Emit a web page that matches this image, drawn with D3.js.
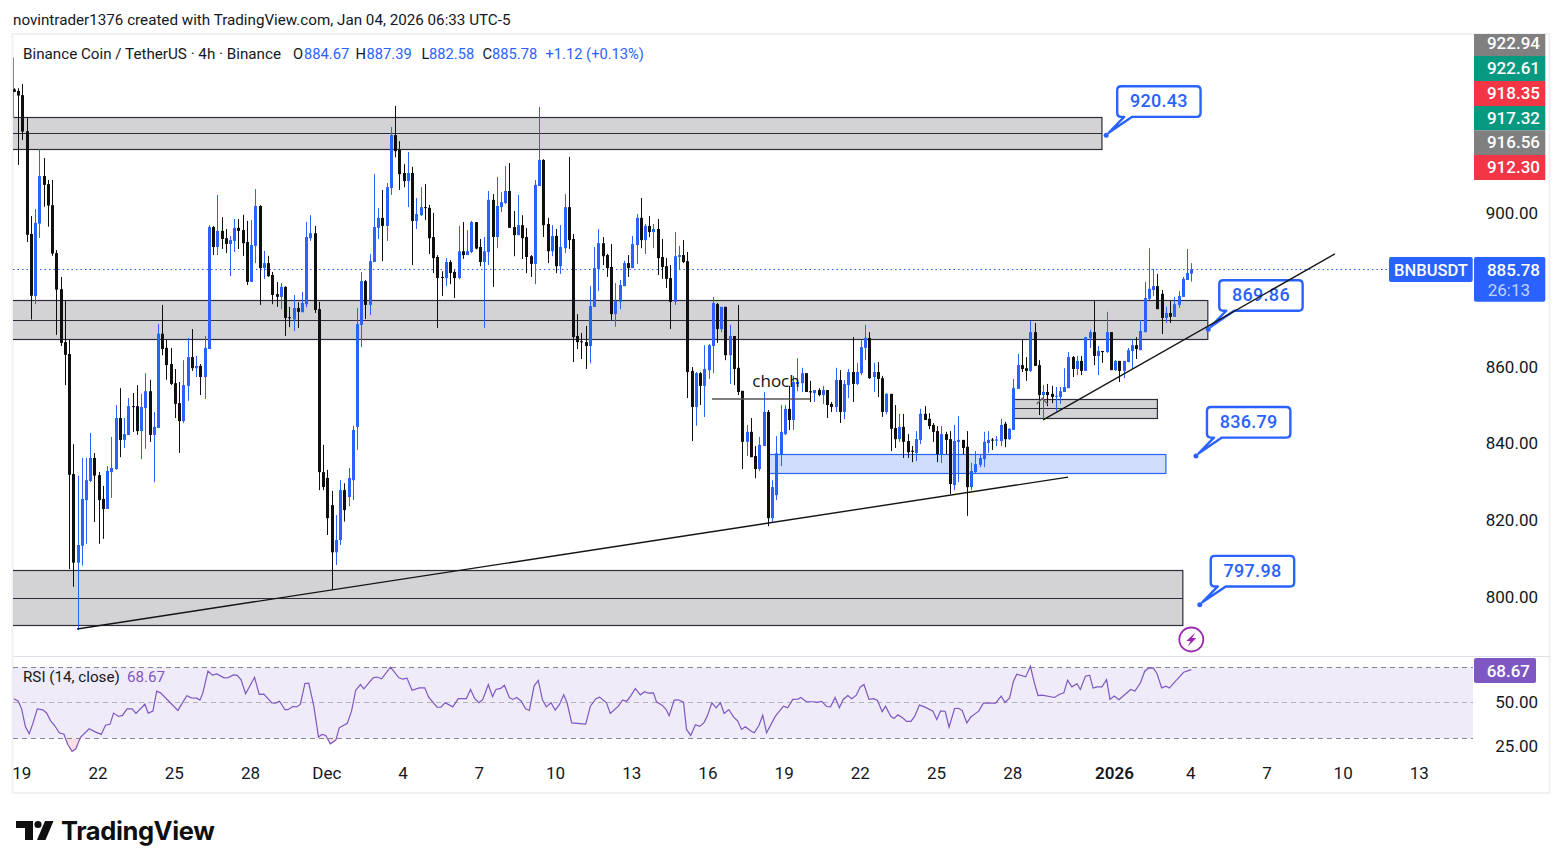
<!DOCTYPE html>
<html>
<head>
<meta charset="utf-8">
<style>
  html, body { margin: 0; padding: 0; background: #fff; }
  svg { display: block; }
  text { font-family: Roboto, sans-serif; }
</style>
<script src="https://cdn.jsdelivr.net/npm/d3@7"></script>
</head>
<body>
<svg id="chart" width="1563" height="868"></svg>
<script>
// BNB/USDT 4h candles, each row is [open, high, low, close]
const bars = [
[932.7,933,932,932.1],[932.3,933,913,931.1],[931.2,934.1,919.5,921.7],[921.8,925.4,892.9,894.8],[895,899.7,872.7,878.9],
[878.8,901.5,876.7,897.9],[897.7,917.1,894,910.1],[910.1,914.8,902.1,907.8],[908,909.1,896.9,902.4],[902.5,909.1,889.3,889.9],
[890,890.8,868.7,880.5],[880.6,883.8,865.8,866.6],[866.8,877.6,855.6,863.5],[863.7,867.4,807.6,832.2],[832.4,840.2,803,809.3],
[809.3,832,791.7,813.9],[813.7,836.6,808.5,825.9],[825.6,836.6,814.2,830.8],[830.6,843.1,830.3,836.6],[836.6,837.9,819.9,832],
[832.1,832.9,814.2,825.6],[825.9,829.3,815.5,823.3],[823.3,834.5,823.3,833.2],[832.9,842.1,826.2,834],[833.7,850.4,833.5,847],
[847,854.8,836.8,841.3],[841.3,847,839.2,842.8],[842.6,852.2,842.6,850.1],[850.1,853.5,843.4,850],[850.1,855.6,842.6,843.6],
[843.6,853.3,836.3,849.9],[849.6,858.7,839,854],[854,857,840.8,842.6],[842.6,848.6,830.3,844.7],[844.4,871.5,844.4,869],
[869,876.5,863.4,865],[865.3,867.4,857,860.8],[861.1,865.3,855.6,855.9],[856.1,859.8,847,850.7],[850.9,856.4,837.9,846.2],
[846.2,862.1,845.7,855.6],[855.4,867.9,851.5,862.9],[862.9,870.2,859.3,860],[860,863.2,857.7,860.6],[860.6,861.1,853,857.7],
[857.7,868.4,852,865.3],[865,897.3,865,896.8],[896.8,897.1,889.5,891.6],[891.6,905.2,889.5,895.8],[895.8,899.4,891.1,893.7],
[893.9,896.3,890,892.4],[892.4,894.5,884,893.4],[893.2,898.9,890.3,896.6],[896.6,898.9,891.1,895.8],[896,900,889.3,892.6],
[892.9,898.4,881.7,882.5],[882.5,898.6,882.5,892.1],[891.9,906.7,887.4,902.3],[902.3,902.5,876.5,886.1],[886.1,890.6,883.3,887.4],
[887.4,889.3,883.8,884],[884.3,885.1,876.7,879.1],[879.3,882.5,876,878.6],[878.6,882.2,875.4,881.2],[881.2,881.4,868.4,873.1],
[873.3,876,870.7,873.1],[872.7,879.1,869.7,875.7],[875.7,877.2,870.5,874.7],[874.6,879.9,874.6,877],[876.7,898.1,875.9,894.2],
[893.9,899.9,893.2,895.2],[895.2,897.1,874.4,875.2],[875.4,877.3,828.2,832.9],[832.9,840,828.2,829],[831.4,833.5,816.5,820.9],
[824.3,828,802.2,812],[812,821.7,808.7,815.2],[815.2,830.8,813.9,828.2],[828.2,830,820,823],[826.4,834,824,831.4],
[830.8,845,825.6,843.9],[844.7,875.7,838.7,871.5],[871.3,885.1,865.5,882.7],[882.7,883,872.8,876.5],[876.5,889.8,873.9,887.9],
[887.7,910.6,887.7,896.8],[896.6,901.8,893.7,899.2],[899.2,906.5,887.9,897.1],[897.1,908.3,893.2,907.2],[907,922.9,905.2,920.8],
[920.8,928.4,915,916.6],[916.9,919.2,906.5,910.6],[910.9,913.2,907.2,908.8],[908.8,916.4,902,910.9],[910.9,912.5,886.9,898.4],
[898.4,904.4,896.3,900.2],[899.9,907.2,899.7,902],[902,908,898.6,901.8],[901.8,902.6,889.8,893.9],[894.2,900.5,884.8,888.7],
[889,889.5,870.5,883.5],[883.8,885.3,878.8,883.6],[883.5,888.7,881.4,887.7],[887.7,888.2,881.9,884.8],[885.1,885.6,878.3,883.5],
[883.5,897.1,883.2,890.5],[890.5,898.1,888.5,889.5],[889.5,896,889.5,890.5],[890.3,898.4,890,898.1],[898.1,898.1,891,891.2],
[891.6,893.7,886.6,887.7],[887.7,894.2,870.5,890.5],[890.3,906.2,886.9,903.9],[903.9,905.4,881.2,894.2],[894.2,909.9,891.3,902.3],
[902,905.9,900.7,903.3],[903.1,912.7,902.8,906.2],[906.2,913.5,896.6,896.6],[896.8,901,889.2,894.7],[894.7,905.2,894.7,897.3],
[897.3,899.9,888.5,893.9],[894.2,896.6,884.8,889],[889.2,889.5,883.8,887.2],[887.2,909.1,881.9,907.8],[907.5,928.1,907.5,914.3],
[914.3,914.5,894.2,897.3],[897.6,899.2,887.4,890.5],[890.5,897.3,889.2,894.5],[894.5,896.3,884.8,886.6],[886.6,897.3,884.6,891.6],
[891.3,905.4,890,902],[902,915.1,891.1,893.4],[893.7,895,861.6,868.1],[868.4,874.1,865,866.8],[867,869.2,862.4,866.8],
[866.8,871,859.8,865.8],[865.8,881.4,861.3,876.2],[876,891.6,876,886.1],[885.9,896.3,880.1,892.6],[892.6,894.2,886.9,889.2],
[889.5,889.8,883.8,886.1],[886.4,892.4,872.6,874.1],[874.1,882.2,870.8,877.5],[877.3,883,875.4,881.7],[881.4,888,881.4,887.4],
[887.4,889.5,883.8,886.1],[886.1,894.5,886.1,892.4],[892.1,900.2,887.2,899.2],[899.2,904.4,891.3,893.4],[893.4,897.6,889.8,897.1],
[897.1,899.7,894.2,895.5],[895.5,897.6,891.3,896.3],[896.3,898.9,884.3,888.7],[889,893.7,883.3,886.4],[886.6,888.7,880.9,883.3],
[883.5,886.9,870.2,877.3],[877.3,895.5,876.5,889.2],[889,891.9,885.6,889.5],[889.5,893.4,887.4,887.7],[887.9,890.3,852.2,859],
[859.3,860.3,841,849.9],[849.9,859,845,858.7],[858.7,859,850.4,855.4],[855.4,866,847.3,859.8],[859.5,866.3,857.2,866],
[865.8,878.6,858.7,877],[876.7,877,866.6,870.2],[870.2,876,869.4,876],[876,876,862.1,863.4],[863.4,871.3,855.9,868.4],
[868.4,868.4,855.6,859.8],[860.1,876.5,853,853.8],[854.1,854.1,833.7,840.8],[840.8,845.2,837.1,843.4],[843.4,847,836.8,836.8],
[837.1,839.7,831.3,833.7],[833.7,842.1,833.2,840],[839.7,853.8,839.7,848.6],[848.6,849.1,818.8,820.9],[820.9,830.8,819.9,829],
[826.9,842.3,825.6,837.8],[837.5,850.4,834.5,843.4],[842.8,850.4,842.6,849.4],[849.4,855.4,843.9,846.5],[846.5,858,843.9,856.4],
[855.9,862.6,854,856.4],[856.1,860.1,853.8,858.7],[858.7,858.7,853.8,853.8],[854,856.7,851.2,853.7],[853.5,854.3,851.2,854.3],
[854.3,854.8,852.7,853],[853,855.4,850.7,854.3],[854.3,854.3,847,850.4],[850.7,851.2,848.6,849.9],[849.9,860.1,848.6,856.9],
[856.9,859.5,845.7,848.6],[848.6,856.9,846.7,855.9],[855.6,859.8,852.2,859],[859,868.1,851.2,855.9],[855.9,861.4,855.6,859],
[858.7,867.3,858.2,865.5],[865.3,871.3,862.1,867.9],[867.9,869.4,857.2,857.4],[857.7,861.4,853.8,859],[859,861.6,852.5,857.2],
[857.4,858,847.3,848.6],[848.6,853.5,848,853.3],[853.3,853.3,838.4,844.2],[844.4,850.4,839.2,841.5],[841.5,848.1,840.8,844.7],
[844.7,848.1,836.6,840.8],[841,842.8,836.6,838.1],[838.5,839.7,835.5,838.2],[837.9,843.6,835.8,841.5],[841.3,849.4,840.2,848.1],
[848.1,850.1,846.5,846.5],[846.8,848.3,844.1,844.9],[845.2,845.7,840.8,843.4],[843.6,844.9,835.5,837.6],[837.6,844.9,835.3,842.8],
[842.8,843.4,837.6,841.3],[841.5,843.6,827.2,829.8],[829.5,845.2,828.2,841],[840.8,847.5,830.3,841.3],[841.3,841.3,837.6,839.2],
[839.5,843.6,821.5,829],[829,835.3,828.2,833.2],[832.9,838.4,832.7,835],[834.8,837.4,834.2,836.6],[836.3,843.4,834.2,840.8],
[840.5,843.6,837.9,841.3],[841.4,841.8,838.7,841.1],[841.1,842.3,839.7,841.4],[841,846.8,839.7,845.2],[845.5,846,839.4,841.5],
[841.5,844.4,841.3,844.2],[843.9,857.2,843.9,854.8],[854.6,863.7,854.6,860.8],[860.8,867.4,859,859.8],[860,862.9,856.7,859.3],
[859.3,872.3,859,869.4],[869.4,871.8,860.6,860.6],[860.8,862.1,847.8,853],[853,855.6,846.5,853.8],[853.8,855.9,850.1,853],
[853.3,855.4,850.9,852.5],[852.6,855.1,848.8,852.8],[852.5,855.1,850.7,854],[853.8,860,853.8,855.1],[854.8,864.2,854.8,862.9],
[862.9,863.2,857.7,859.8],[859.8,863.2,858.2,861.9],[861.9,863.2,858.2,859.3],[859.3,868.1,859.3,868.1],[867.9,870,865.3,869.4],
[869.4,877.5,860.8,863.2],[863.2,865.8,858.2,864.5],[864.5,864.5,861.4,864.2],[864.2,874.7,864,869.4],[869.4,869.4,859.5,859.5],
[859.5,862.1,859.3,861.9],[861.9,861.9,856.4,859.3],[859.3,861.9,857.4,861.9],[861.6,865.3,861.6,864.7],[864.5,867.6,859.8,866],
[866,868.1,862.4,865],[864.7,872.6,864.7,869.7],[869.4,882.5,869.4,878.3],[878.1,891.3,877.8,880.7],[880.4,885.9,878.8,881.4],
[881.4,884.6,875.4,875.4],[879.4,880.4,868.9,873.1],[873.1,876,871.8,874.4],[874.4,877.5,871.8,873.4],[873.4,878.6,873.4,876.7],
[876.5,880.1,875.7,878.8],[878.6,883.8,878.6,883.3],[883,891.1,883,884.8],[884.67,887.39,882.58,885.78]
];

// RSI(14) vertices as [bar index, value]
const rsiPoints = [
[0,52.3],[1,50.9],[1.8,46.6],[2.7,36.5],[3.6,32.6],[4.5,38.7],[5.5,46.6],[6.8,46],[7.7,44.3],[8.7,39.6],[9.6,37.2],[10.7,33.1],[11.8,32.3],[12.7,26.5],[13.7,22.6],[14.6,24.1],[15.7,30.6],[17.75,35.4],[19.3,33.5],[20.6,32.2],[21.6,37.4],[22.7,38],[23.5,44.2],[24.7,42.3],[25.6,42.9],[26.7,46.6],[27.9,46.6],[28.8,44],[30.9,49.2],[31.7,44.2],[32.8,45.3],[33.7,56.6],[34.6,55.6],[38.7,45.7],[40.8,54],[41.9,52.8],[43.2,52.6],[43.9,51.5],[44.6,55.6],[45.8,67.8],[46.9,65.6],[47.9,66.3],[49.6,64.1],[50.6,64.2],[51.8,65.7],[52.7,65.5],[53.6,63.1],[54.7,55.1],[56.8,64.4],[57.9,54.7],[59,54.9],[60.9,50],[61.8,49.8],[62.7,50.9],[64,46.1],[64.7,46.1],[65.8,47.9],[66.7,47.7],[67.6,49.1],[68.7,60.9],[69.6,61.1],[70.8,48.1],[71.9,30.7],[72.7,32.2],[73.6,31.6],[74.7,26.9],[76,29],[76.8,35.9],[78.7,38.4],[79.7,45.3],[80.7,57.1],[81.8,60.3],[82.6,57.9],[84.8,64.1],[85.7,64.5],[86.8,63.5],[88.9,70.1],[90.9,64.1],[91.8,63.3],[92.8,63.9],[94,57.1],[95.7,58.4],[97,58.4],[97.9,53.2],[99.9,47.5],[100.8,47.5],[101.8,50],[103.6,47.7],[104.9,52.3],[106.8,52.3],[107.8,57.5],[108.8,52.3],[109.8,50],[110.7,51.9],[112,60.3],[113,53.4],[113.8,57.5],[114.9,58.1],[115.8,59.9],[117,52.8],[117.8,51.9],[118.7,53],[119.8,50.9],[120.8,46.6],[121.7,45.7],[122.8,59.4],[123.8,62.6],[124.8,51.5],[125.7,47.7],[126.8,50],[127.8,45.9],[128.8,49.1],[129.8,54.5],[130.6,50],[131.7,38.7],[135,38],[136.1,48.1],[137.4,52.3],[138.3,53.2],
[139.9,50],[140.8,44],[142.7,48.1],[143.7,51.5],[144.7,50.9],[145.6,53.8],[146.7,58.1],[147.9,54.5],[148.9,56.2],[149.8,55.4],[151,55.6],[151.7,50.6],[153.1,48.5],[154,46.2],[154.7,42.7],[155.9,51.5],[156.9,51.7],[158.1,50.4],[158.8,35],[159.8,31.6],[160.9,37.6],[161.9,36.7],[162.9,38.7],[163.7,42.5],[164.8,50],[165.8,47.2],[166.8,50],[167.7,44],[168.8,46.2],[169.9,42.1],[170.9,39.7],[171.8,35],[172.7,36.5],[174.1,34],[174.8,33.1],[175.9,37.2],[176.8,43],[177.7,33.1],[179.8,42.5],[181.7,48.1],[182.7,47.2],[183.9,51.9],[185.1,52.1],[185.8,53],[187.1,50.6],[188.8,50.6],[189.7,50.2],[190.7,50.8],[191.9,47.9],[192.8,47.7],[193.9,53],[194.9,47.2],[195.8,51.9],[196.9,54.1],[197.8,52.3],[198.9,54.3],[199.8,58.8],[200.7,60.3],[201.9,51.9],[203,52.3],[203.9,51.3],[205,45],[205.8,48.1],[207,42.5],[207.8,41.2],[208.7,43.2],[209.8,41.6],[210.8,39.5],[211.8,39.5],[212.7,42.5],[213.8,48.7],[215,47.7],[217,45.3],[217.9,40.6],[218.8,45.5],[219.9,45.1],[220.8,36.3],[222.1,46.8],[223,46.9],[223.9,45.7],[225,38.7],[225.9,41.9],[227,43.9],[227.8,45.3],[228.9,49.8],[231.8,49.8],[233.1,53.8],[234,50.2],[235.1,52.8],[236,62.2],[236.8,66.1],[238.9,64.6],[240,70.6],[241,60.7],[241.8,54.1],[242.8,54.3],[245.7,53],[246.8,54.7],[247.9,55.6],[248.8,62.8],[249.8,59],[251,60.7],[251.8,57.5],[253,65],[254,65.6],[254.8,58.3],[255.8,59],[256.9,59],[258,63.1],[258.8,51.9],[259.8,53.8],[260.9,51.7],[263.7,57.5],[264.7,56.6],[266,61.3],[267,67.8],[267.9,69.5],[269,69.7],[269.9,66.5],[271,58.4],[272,59.4],[272.8,58.3],[274.6,63.1],[276.2,67.2],[278,68.67]
];

// Time axis labels and the bar position of each
const dayLabels = ["19","22","25","28","Dec","4","7","10","13","16","19","22","25","28","2026","4","7","10","13"];
const dayBarIndex = [1.5,19.5,37.5,55.5,73.5,91.5,109.5,127.5,145.5,163.5,181.5,199.5,217.5,235.5,259.5,277.5,295.5,313.5,331.5];

// Price scale labels
const priceTicks = [900,860,840,820,800];
const rsiTicks = [50,25];
const levelPrices = [922.94,922.61,918.35,917.32,916.56,912.30];
const levelColors = ["#808080","#089981","#f23645","#089981","#808080","#f23645"];

// Supply and demand zones: [top price, bottom price, left bar, right bar]
const grayZones = [[925.4,917.1,-2,256.9],[877.55,867.5,-2,281.9],[851.9,846.9,236,270],[807.15,793,-2,276]];
const blueZone = [837.6,832.6,178.2,272];

// Trend lines and the structure-break line: [bar, price, bar, price]
const trendLines = [[14.9,792,248.9,831.6],[243,846.5,311.9,889.8]];
const chochLine = [164.8,852,188,852];

// Price callouts
const calloutValues = [920.43,869.86,836.79,797.98];
const calloutBars = [257.9,282,279.1,280];

// Legend readings
const symbolTitle = "Binance Coin / TetherUS · 4h · Binance";
const legendNames = ["O","H","L","C"];
const legendValues = ["884.67","887.39","882.58","885.78"];
const changeText = "+1.12 (+0.13%)";

const lastClose = 885.78;
const lastRsi = 68.67;
const edgeWick = [941,925.2];

const blue = "#2962ff", ink = "#131722", candleBlack = "#0f0f0f", purple = "#7e57c2";
const svg = d3.select("#chart");

// Scales
const x = d3.scaleLinear().domain([0, bars.length - 1]).range([14, 1191.3]);
const y = d3.scaleLinear().domain([900, 800]).range([214.8, 598.3]);
const yRsi = d3.scaleLinear().domain([70, 30]).range([667.3, 738.3]);

// Frame
const frameColor = "#f1f1f3";
svg.append("rect").attr("x", 12.5).attr("y", 34).attr("width", 1537).attr("height", 759)
  .attr("fill", "#fff").attr("stroke", frameColor).attr("stroke-width", 2);
svg.append("line").attr("x1", 13).attr("x2", 1550).attr("y1", 656.5).attr("y2", 656.5).attr("stroke", "#e0e3eb");

svg.append("text").attr("x", 13).attr("y", 24.5).attr("font-size", 15.2).attr("fill", ink)
  .text("novintrader1376 created with TradingView.com, Jan 04, 2026 06:33 UTC-5");

// Clipped plotting areas
const defs = svg.append("defs");
defs.append("clipPath").attr("id", "plot").append("rect").attr("x", 13).attr("y", 35).attr("width", 1461).attr("height", 621);
defs.append("clipPath").attr("id", "rsi-plot").append("rect").attr("x", 13).attr("y", 657).attr("width", 1461).attr("height", 135);
const plot = svg.append("g").attr("clip-path", "url(#plot)");

const crisp = v => Math.round(v - 0.5) + 0.5;

// Last price line
plot.append("line").attr("x1", 13).attr("x2", 1389).attr("y1", crisp(y(lastClose))).attr("y2", crisp(y(lastClose)))
  .attr("stroke", blue).attr("stroke-dasharray", "1.5 3").attr("stroke-width", 1);

// Zones
const zoneG = plot.append("g");
grayZones.forEach(([top, bottom, left, right]) => {
  const g = zoneG.append("g");
  g.append("rect").attr("x", x(left)).attr("y", crisp(y(top))).attr("width", x(right) - x(left))
    .attr("height", crisp(y(bottom)) - crisp(y(top)))
    .attr("fill", "#d3d3d6").attr("stroke", "#2a2e39").attr("stroke-width", 1.2);
  const mid = crisp(y((top + bottom) / 2));
  g.append("line").attr("x1", x(left)).attr("x2", x(right)).attr("y1", mid).attr("y2", mid)
    .attr("stroke", "#2a2e39").attr("stroke-width", 1.2);
});
zoneG.append("rect").attr("x", x(blueZone[2])).attr("y", crisp(y(blueZone[0])))
  .attr("width", x(blueZone[3]) - x(blueZone[2])).attr("height", crisp(y(blueZone[1])) - crisp(y(blueZone[0])))
  .attr("fill", "#d0dcfc").attr("stroke", blue).attr("stroke-width", 1.2);

// Partial wick at the left edge of the chart
plot.append("line").attr("x1", 13.5).attr("x2", 13.5).attr("y1", y(edgeWick[0])).attr("y2", y(edgeWick[1]))
  .attr("stroke", "#8a8a8a").attr("stroke-width", 1);

// Candles
const candle = plot.append("g").selectAll("g").data(bars).join("g")
  .attr("fill", d => d[3] >= d[0] ? blue : candleBlack);
candle.append("rect").attr("class", "wick")
  .attr("x", (d, i) => Math.round(x(i))).attr("width", 1)
  .attr("y", d => y(d[1])).attr("height", d => Math.max(1, y(d[2]) - y(d[1])));
candle.append("rect").attr("class", "body")
  .attr("x", (d, i) => Math.round(x(i)) - 1).attr("width", 3)
  .attr("y", d => y(Math.max(d[0], d[3])))
  .attr("height", d => Math.max(1, Math.abs(y(d[0]) - y(d[3]))));

// Callouts with their tails
calloutValues.forEach((value, i) => {
  const ax = x(calloutBars[i]), ay = y(value) - 1.2;
  const bx = ax + 11, by = ay - 49, w = 83.4, h = 30.6, r = 4;
  const path = `M${bx + r},${by}H${bx + w - r}Q${bx + w},${by} ${bx + w},${by + r}V${by + h - r}Q${bx + w},${by + h} ${bx + w - r},${by + h}`
    + `H${bx + 15}L${ax + 2.5},${ay - 2.5}L${bx + 7},${by + h}H${bx + r}Q${bx},${by + h} ${bx},${by + h - r}V${by + r}Q${bx},${by} ${bx + r},${by}Z`;
  plot.append("path").attr("d", path).attr("fill", "#fff").attr("stroke", blue).attr("stroke-width", 2.4).attr("stroke-linejoin", "round");
  plot.append("circle").attr("cx", ax).attr("cy", ay).attr("r", 2.5).attr("fill", blue);
  plot.append("text").attr("x", bx + w / 2).attr("y", by + 21).attr("text-anchor", "middle")
    .attr("font-size", 18).attr("font-weight", 500).attr("letter-spacing", 0.3).attr("fill", blue)
    .text(value.toFixed(2));
});

// Trend lines
trendLines.forEach(([b1, p1, b2, p2]) => {
  plot.append("line").attr("x1", x(b1)).attr("y1", y(p1)).attr("x2", x(b2)).attr("y2", y(p2))
    .attr("stroke", "#141414").attr("stroke-width", 1.4);
});

// Structure-break annotation
plot.append("line").attr("x1", x(chochLine[0])).attr("y1", y(chochLine[1])).attr("x2", x(chochLine[2])).attr("y2", y(chochLine[3]))
  .attr("stroke", "#555").attr("stroke-width", 1.5);
plot.append("text").attr("x", 776).attr("y", 387).attr("text-anchor", "middle").attr("font-size", 17)
  .attr("fill", "#111").style("font-family", "'Open Sans', sans-serif").text("choch");
plot.append("path").attr("d", "M1036.7,404L1042.3,398.3L1047.7,404").attr("fill", "none").attr("stroke", "#666").attr("stroke-width", 1.3);

// Alert badge
const badge = svg.append("g").attr("transform", "translate(1191.3,639.5)");
badge.append("circle").attr("r", 12).attr("fill", "#fff").attr("stroke", "#9c27b0").attr("stroke-width", 1.8);
badge.append("path").attr("d", "M4,-7L-5,1.5H-0.8L-3.5,7L5,-1.5H0.8Z").attr("fill", "#9c27b0");

// RSI pane
const rsiPane = svg.append("g").attr("clip-path", "url(#rsi-plot)");
rsiPane.append("rect").attr("x", 13).attr("width", 1460).attr("y", yRsi(70)).attr("height", yRsi(30) - yRsi(70))
  .attr("fill", purple).attr("fill-opacity", 0.12);
const rsiLine = d3.line().x(d => x(d[0])).y(d => yRsi(d[1]));

// Oversold excursions below the lower band
defs.append("clipPath").attr("id", "below30").append("rect").attr("x", 13).attr("width", 1460).attr("y", yRsi(30)).attr("height", 30);
rsiPane.append("path").attr("clip-path", "url(#below30)")
  .attr("d", d3.area().x(d => x(d[0])).y0(yRsi(30)).y1(d => yRsi(d[1]))(rsiPoints))
  .attr("fill", "#f23645").attr("fill-opacity", 0.16);

[[70, 0.9], [50, 0.5], [30, 0.9]].forEach(([level, op]) => {
  rsiPane.append("line").attr("x1", 13).attr("x2", 1473).attr("y1", crisp(yRsi(level))).attr("y2", crisp(yRsi(level)))
    .attr("stroke", "#787b86").attr("stroke-opacity", op).attr("stroke-dasharray", "5 4");
});
rsiPane.append("path").attr("d", rsiLine(rsiPoints)).attr("fill", "none").attr("stroke", purple).attr("stroke-width", 1.2);

// Chart legend
const nameLeft = [293, 355.5, 421.5, 482.5];
const valueLeft = [304, 366.5, 429, 492];
const legendRow = svg.append("g").attr("font-size", 14.7);
legendRow.append("text").attr("x", 23).attr("y", 59).attr("fill", ink).attr("font-size", 15.2).text(symbolTitle);
legendNames.forEach((name, i) => {
  legendRow.append("text").attr("x", nameLeft[i]).attr("y", 59).attr("fill", ink).text(name);
  legendRow.append("text").attr("x", valueLeft[i]).attr("y", 59).attr("fill", blue).text(legendValues[i]);
});
legendRow.append("text").attr("x", 545.5).attr("y", 59).attr("fill", blue).text(changeText);

const rsiLegend = svg.append("g").attr("font-size", 15.2);
rsiLegend.append("text").attr("x", 23).attr("y", 682).attr("fill", ink).text("RSI (14, close)");
rsiLegend.append("text").attr("x", 127).attr("y", 682).attr("fill", purple).text(lastRsi.toFixed(2));

// Price axis, RSI axis, time axis
const styleAxis = g => {
  g.select(".domain").remove();
  g.selectAll(".tick line").remove();
  g.selectAll("text").attr("fill", ink).attr("font-size", 17).style("font-family", "Roboto, sans-serif");
};
svg.append("g").attr("transform", "translate(1538,-1.5)")
  .call(d3.axisLeft(y).tickValues(priceTicks).tickFormat(d3.format(".2f")).tickSize(0).tickPadding(0))
  .call(styleAxis);
svg.append("g").attr("transform", "translate(1538,-1)")
  .call(d3.axisLeft(yRsi).tickValues(rsiTicks).tickFormat(d3.format(".2f")).tickSize(0).tickPadding(0))
  .call(styleAxis);

const timeAxis = svg.append("g").attr("transform", "translate(1,761)")
  .call(d3.axisBottom(x).tickValues(dayBarIndex).tickFormat((d, i) => dayLabels[i]).tickSize(0).tickPadding(6))
  .call(styleAxis);
timeAxis.selectAll("text").attr("font-weight", (d, i) => dayLabels[i] === "2026" ? 600 : 400);

// Colored price tags
const tagTop = d3.scaleOrdinal().domain(levelPrices).range([34, 56, 81, 106, 130.3, 155]);
const tagBottom = d3.scaleOrdinal().domain(levelPrices).range([56, 81, 106, 130.3, 155, 180]);
const tags = svg.append("g").selectAll("g").data(levelPrices).join("g");
tags.append("rect").attr("x", 1474).attr("width", 71.3)
  .attr("y", d => tagTop(d)).attr("height", d => tagBottom(d) - tagTop(d))
  .attr("fill", (d, i) => levelColors[i]);
tags.append("text").attr("x", 1540).attr("text-anchor", "end").attr("font-size", 17).attr("font-weight", 500).attr("fill", "#fff")
  .attr("y", (d, i) => (tagTop(d) + tagBottom(d)) / 2 + (i === 0 ? 4 : 5.5)).text(d => d.toFixed(2));

// Last price and symbol tags
svg.append("rect").attr("x", 1389).attr("y", 257).attr("width", 83.7).attr("height", 25).attr("rx", 2).attr("fill", blue);
svg.append("text").attr("x", 1431).attr("y", 275.5).attr("text-anchor", "middle").attr("font-size", 16.5).attr("font-weight", 500).attr("fill", "#fff").text("BNBUSDT");
svg.append("rect").attr("x", 1474).attr("y", 257).attr("width", 71.3).attr("height", 44.7).attr("rx", 2).attr("fill", blue);
svg.append("text").attr("x", 1540).attr("y", 275.5).attr("text-anchor", "end").attr("font-size", 17).attr("font-weight", 500).attr("fill", "#fff").text(lastClose.toFixed(2));
svg.append("text").attr("x", 1530).attr("y", 295.5).attr("text-anchor", "end").attr("font-size", 17).attr("fill", "#fff").attr("fill-opacity", 0.72).text("26:13");

// RSI value tag
svg.append("rect").attr("x", 1474).attr("y", 658).attr("width", 62).attr("height", 25).attr("rx", 2).attr("fill", purple);
svg.append("text").attr("x", 1530).attr("y", 676.5).attr("text-anchor", "end").attr("font-size", 17).attr("font-weight", 500).attr("fill", "#fff").text(lastRsi.toFixed(2));

// Wordmark
const logo = svg.append("g").attr("fill", "#0f0f0f");
logo.append("path").attr("d", "M16,821H33V840H25V828H16Z");
logo.append("circle").attr("cx", 38).attr("cy", 824.5).attr("r", 3.6);
logo.append("path").attr("d", "M45,821H53.5L45.5,840H37Z");
logo.append("text").attr("x", 61).attr("y", 840).attr("font-size", 25.5).attr("font-weight", 700)
  .style("font-family", "Inter, sans-serif").attr("letter-spacing", -0.4).text("TradingView");
</script>
</body>
</html>
